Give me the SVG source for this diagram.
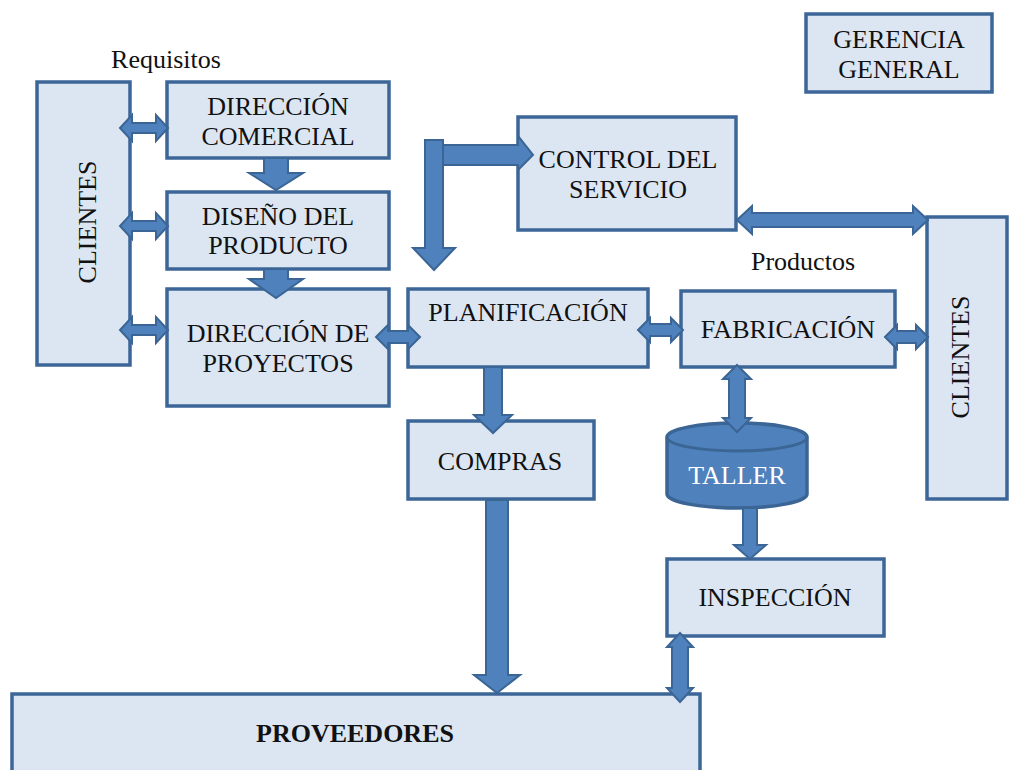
<svg xmlns="http://www.w3.org/2000/svg" width="1009" height="770" viewBox="0 0 1009 770" font-family="'Liberation Serif', 'DejaVu Serif', serif">
<style>
.box{fill:#dce6f2;stroke:#3c6697;stroke-width:3.5}
.arr{fill:#4f81bd;stroke:#3a6594;stroke-width:2;stroke-linejoin:miter}
.cyl{fill:#4f81bd;stroke:#3a6594;stroke-width:3.5}
text{font-family:'Liberation Serif','DejaVu Serif',serif;font-size:26px;fill:#111;text-anchor:middle}
.lbl{font-size:26px}
.w{fill:#fff}
.b{font-weight:bold}
</style>
<rect width="1009" height="770" fill="#fff"/>
<g id="requisitos-label"><text class="lbl" x="166" y="68">Requisitos</text></g>
<g id="productos-label"><text class="lbl" x="803" y="270">Productos</text></g>
<g id="gerencia"><rect class="box" x="806" y="14" width="186" height="78"/><text x="899" y="48">GERENCIA</text><text x="899" y="78">GENERAL</text></g>
<g id="clientes-left"><rect class="box" x="37" y="82" width="93" height="283"/><text transform="translate(96,222) rotate(-90)">CLIENTES</text></g>
<g id="direccion-comercial"><rect class="box" x="167" y="82" width="222" height="76"/><text x="278" y="115">DIRECCIÓN</text><text x="278" y="145">COMERCIAL</text></g>
<g id="diseno-producto"><rect class="box" x="167" y="192" width="222" height="77"/><text x="278" y="225">DISEÑO DEL</text><text x="278" y="254">PRODUCTO</text></g>
<g id="direccion-proyectos"><rect class="box" x="167" y="289" width="222" height="117"/><text x="278" y="342">DIRECCIÓN DE</text><text x="278" y="372">PROYECTOS</text></g>
<g id="control-servicio"><rect class="box" x="518" y="117" width="218" height="113"/><text x="628" y="168">CONTROL DEL</text><text x="628" y="198">SERVICIO</text></g>
<g id="planificacion"><rect class="box" x="408" y="289" width="240" height="78"/><text x="528" y="321">PLANIFICACIÓN</text></g>
<g id="fabricacion"><rect class="box" x="681" y="291" width="214" height="76"/><text x="788" y="338">FABRICACIÓN</text></g>
<g id="clientes-right"><rect class="box" x="927" y="217" width="80" height="282"/><text transform="translate(969,357) rotate(-90)">CLIENTES</text></g>
<g id="compras"><rect class="box" x="408" y="421" width="186" height="78"/><text x="500" y="470">COMPRAS</text></g>
<g id="taller"><path class="cyl" d="M667,437 A70,14 0 0 1 807,437 L807,494 A70,14 0 0 1 667,494 Z"/><path fill="none" stroke="#3a6594" stroke-width="3" d="M667,437 A70,14 0 0 0 807,437"/><text class="w" x="737" y="484">TALLER</text></g>
<g id="inspeccion"><rect class="box" x="667" y="559" width="217" height="77"/><text x="775" y="606">INSPECCIÓN</text></g>
<g id="proveedores"><rect class="box" x="12" y="694" width="688" height="80"/><text class="b" x="355" y="742">PROVEEDORES</text></g>
<g id="connectors">
<path class="arr" d="M120,128 L132,115 L132,123 L156,123 L156,115 L168,128 L156,141 L156,133 L132,133 L132,141 Z"/>
<path class="arr" d="M120,226 L132,213 L132,221 L156,221 L156,213 L168,226 L156,239 L156,231 L132,231 L132,239 Z"/>
<path class="arr" d="M120,330 L132,317 L132,325 L156,325 L156,317 L168,330 L156,343 L156,335 L132,335 L132,343 Z"/>
<path class="arr" d="M264,158 L288,158 L288,173 L303,173 L276,190 L249,173 L264,173 Z"/>
<path class="arr" d="M264,269 L288,269 L288,279 L303,279 L276,298 L249,279 L264,279 Z"/>
<path class="arr" d="M376,337 L388,325 L388,331 L408,331 L408,325 L420,337 L408,349 L408,343 L388,343 L388,349 Z"/>
<path class="arr" d="M638,330 L650,318 L650,324 L671,324 L671,318 L683,330 L671,342 L671,336 L650,336 L650,342 Z"/>
<path class="arr" d="M885,337 L897,325 L897,331 L916,331 L916,325 L928,337 L916,349 L916,343 L897,343 L897,349 Z"/>
<path class="arr" d="M737,220 L752,206 L752,213 L913,213 L913,206 L928,220 L913,234 L913,227 L752,227 L752,234 Z"/>
<path class="arr" d="M425,140 L443,140 L443,248 L455,248 L434,270 L413,248 L425,248 Z"/>
<path class="arr" d="M443,145 L518,145 L518,136 L533,155 L518,170 L518,165 L443,165 Z"/>
<path class="arr" d="M484,367 L502,367 L502,415 L512,415 L493,433 L474,415 L484,415 Z"/>
<path class="arr" d="M486,500 L508,500 L508,675 L520,675 L497,693 L474,675 L486,675 Z"/>
<path class="arr" d="M737,365 L751,379 L745,379 L745,418 L751,418 L737,432 L723,418 L729,418 L729,379 L723,379 Z"/>
<path class="arr" d="M743,508 L757,508 L757,545 L766,545 L750,559 L734,545 L743,545 Z"/>
<path class="arr" d="M680,633 L693,647 L688,647 L688,688 L693,688 L680,702 L667,688 L672,688 L672,647 L667,647 Z"/>
</g>
</svg>
